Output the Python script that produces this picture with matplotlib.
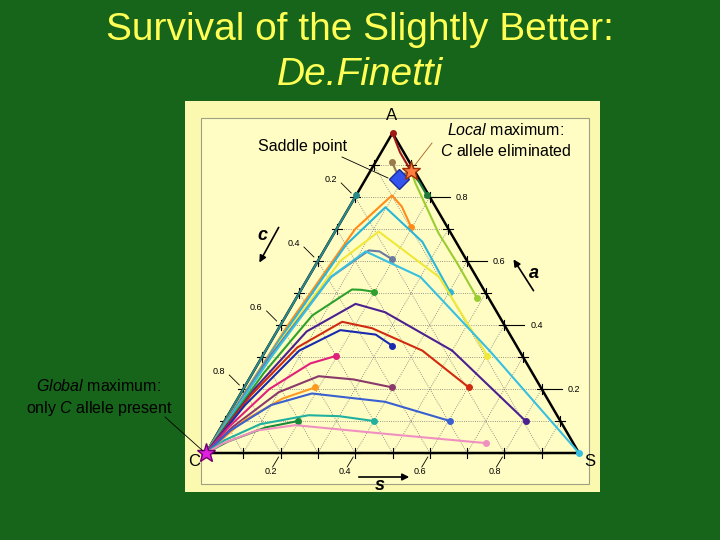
import matplotlib.pyplot as plt
import numpy as np

plt.rcParams['font.family'] = ['Liberation Sans', 'DejaVu Sans']
plt.rcParams['mathtext.fontset'] = 'custom'
plt.rcParams['mathtext.it'] = 'Liberation Sans:italic'
plt.rcParams['mathtext.rm'] = 'Liberation Sans'

# ternary trajectories: list of (s, a) points, from start dot toward the end point
trajectories = [
    ("#a01818", [(0.0, 1.0), (0.05, 0.94), (0.11, 0.88)]),
    ("#9a7a4a", [(0.045, 0.908), (0.07, 0.88), (0.09, 0.87), (0.11, 0.88)]),
    ("#1d7a3a", [(0.19, 0.805), (0.15, 0.845), (0.11, 0.88)]),
    ("#9acd32", [(0.486, 0.483), (0.38, 0.59), (0.28, 0.687), (0.14, 0.843), (0.11, 0.88)]),
    ("#2a8a8a", [(0.0, 0.805), (0.0, 0.4), (0.0, 0.0)]),
    ("#ff8c1a", [(0.198, 0.705), (0.14, 0.77), (0.096, 0.805), (0.05, 0.7), (0.02, 0.4), (0.0, 0.0)]),
    ("#29b6d8", [(0.402, 0.504), (0.25, 0.66), (0.097, 0.768), (0.05, 0.65), (0.02, 0.35), (0.0, 0.0)]),
    ("#f0e838", [(0.603, 0.303), (0.35, 0.55), (0.117, 0.692), (0.06, 0.6), (0.025, 0.35), (0.0, 0.0)]),
    ("#6a7aa0", [(0.197, 0.605), (0.15, 0.63), (0.12, 0.633), (0.06, 0.55), (0.02, 0.3), (0.0, 0.0)]),
    ("#38c0e0", [(1.0, 0.0), (0.6, 0.32), (0.3, 0.55), (0.113, 0.63), (0.06, 0.55), (0.025, 0.3), (0.0, 0.0)]),
    ("#2ea02e", [(0.198, 0.504), (0.16, 0.51), (0.136, 0.511), (0.07, 0.43), (0.03, 0.25), (0.0, 0.0)]),
    ("#4b2090", [(0.807, 0.1), (0.5, 0.32), (0.26, 0.44), (0.168, 0.466), (0.08, 0.38), (0.03, 0.2), (0.0, 0.0)]),
    ("#d02a10", [(0.602, 0.205), (0.42, 0.32), (0.25, 0.39), (0.16, 0.41), (0.08, 0.33), (0.03, 0.18), (0.0, 0.0)]),
    ("#1a2ab0", [(0.332, 0.335), (0.27, 0.37), (0.168, 0.384), (0.09, 0.32), (0.03, 0.15), (0.0, 0.0)]),
    ("#e0207a", [(0.196, 0.303), (0.14, 0.28), (0.07, 0.2), (0.02, 0.08), (0.0, 0.0)]),
    ("#8a3a6a", [(0.397, 0.205), (0.28, 0.23), (0.182, 0.24), (0.1, 0.19), (0.03, 0.08), (0.0, 0.0)]),
    ("#ff9a20", [(0.19, 0.205), (0.12, 0.17), (0.05, 0.1), (0.0, 0.0)]),
    ("#3a60d0", [(0.604, 0.1), (0.4, 0.16), (0.191, 0.186), (0.1, 0.15), (0.03, 0.07), (0.0, 0.0)]),
    ("#20b0a0", [(0.4, 0.1), (0.3, 0.115), (0.216, 0.118), (0.1, 0.09), (0.03, 0.04), (0.0, 0.0)]),
    ("#1a8a3a", [(0.197, 0.1), (0.12, 0.08), (0.04, 0.035), (0.0, 0.0)]),
    ("#f090c0", [(0.734, 0.031), (0.45, 0.06), (0.196, 0.087), (0.1, 0.07), (0.03, 0.03), (0.0, 0.0)]),
]
ticks = [0.1, 0.2, 0.3, 0.4, 0.5, 0.6, 0.7, 0.8, 0.9]
label_vals = [0.2, 0.4, 0.6, 0.8]

Cx, Cy, W, H = 206, 453, 373, 320

def xy(s, a):
    return Cx + (s + a / 2) * W, Cy - a * H

fig = plt.figure(figsize=(7.2, 5.4), dpi=100)
fig.patch.set_facecolor("#17651a")
ax = fig.add_axes([0, 0, 1, 1])
ax.set_xlim(0, 720)
ax.set_ylim(540, 0)
ax.axis("off")

ax.add_patch(plt.Rectangle((185, 101), 415, 391, fc="#fbf8b0", ec="none"))
ax.add_patch(plt.Rectangle((201, 118), 388, 366, fc="#fffdc4", ec="#a0a080", lw=0.8))

# dotted grid
for t in ticks:
    ax.plot(*zip(*[xy(0, t), xy(1 - t, t)]), ls=":", color="#777", lw=0.6)
    ax.plot(*zip(*[xy(t, 0), xy(t, 1 - t)]), ls=":", color="#777", lw=0.6)
    ax.plot(*zip(*[xy(1 - t, 0), xy(0, 1 - t)]), ls=":", color="#777", lw=0.6)

# triangle
tri = [xy(0, 0), xy(1, 0), xy(0, 1), xy(0, 0)]
ax.plot(*zip(*tri), color="black", lw=1.8)
for t in ticks:
    for (x, y) in [xy(0, t), xy(1 - t, t), xy(t, 0)]:
        ax.plot([x - 5, x + 5], [y, y], color="black", lw=0.8)
        ax.plot([x, x], [y - 5, y + 5], color="black", lw=0.8)

for v in label_vals:
    x, y = xy(0, 1 - v)
    ax.plot([x - 4, x - 14], [y - 4, y - 14], color="black", lw=0.6)
    ax.text(x - 18, y - 17, f"{v:.1f}", fontsize=6.5, ha="right", va="center")
    x, y = xy(1 - v, v)
    ax.plot([x, x + 20], [y, y], color="black", lw=0.8)
    ax.text(x + 26, y, f"{v:.1f}", fontsize=6.5, ha="left", va="center")
    x, y = xy(v, 0)
    ax.plot([x - 2, x - 8], [y + 4, y + 14], color="black", lw=0.6)
    ax.text(x - 10, y + 19, f"{v:.1f}", fontsize=6.5, ha="center", va="center")

for col, pts in trajectories:
    P = [xy(s, a) for s, a in pts]
    ax.plot(*zip(*P), color=col, lw=1.5, solid_capstyle="round")
    ax.plot(*P[0], "o", color=col, ms=4)

ax.plot(*xy(0.09, 0.855), "D", color="#3355ee", mec="#1a2a9a", ms=10)
ax.plot(*xy(0.11, 0.88), "*", color="#ff8040", mec="#a03000", ms=14)
ax.plot(*xy(0, 0), "*", color="#e020e0", mec="#700070", ms=14)

# leader lines and annotations
ax.plot([342, 388], [157, 178], color="black", lw=0.6)
ax.text(303, 147, "Saddle point", fontsize=11.5, ha="center", va="center")
ax.plot([415, 432], [165, 143], color="#a06020", lw=0.6)
ax.text(506, 130, r"$\it{Local}$ maximum:", fontsize=11.5, ha="center", va="center")
ax.text(506, 151, r"$\it{C}$ allele eliminated", fontsize=11.5, ha="center", va="center")
ax.plot([165, 203], [417, 451], color="black", lw=0.6)
ax.text(99, 386, r"$\it{Global}$ maximum:", fontsize=11.5, ha="center", va="center")
ax.text(99, 408, r"only $\it{C}$ allele present", fontsize=11.5, ha="center", va="center")

ax.text(392, 115, "A", fontsize=12, ha="center", va="center")
ax.text(194, 461, "C", fontsize=12, ha="center", va="center")
ax.text(590, 461, "S", fontsize=12, ha="center", va="center")
ax.text(262, 236, "c", fontsize=13, style="italic", fontweight="bold", ha="center", va="center")
ax.annotate("", xy=(258, 265), xytext=(280, 225), arrowprops=dict(arrowstyle="-|>", color="black", lw=1.2))
ax.text(534, 273, "a", fontsize=13, style="italic", fontweight="bold", ha="center", va="center")
ax.annotate("", xy=(512, 257), xytext=(535, 293), arrowprops=dict(arrowstyle="-|>", color="black", lw=1.2))
ax.text(380, 486, "s", fontsize=13, style="italic", fontweight="bold", ha="center", va="center")
ax.annotate("", xy=(412, 477), xytext=(356, 477), arrowprops=dict(arrowstyle="-|>", color="black", lw=1.2))

ax.text(360, 30, "Survival of the Slightly Better:", fontsize=28, color="#ffff55", ha="center", va="center")
ax.text(360, 75, "De.Finetti", fontsize=28, color="#ffff55", style="italic", ha="center", va="center")

fig.savefig("out.png", dpi=100, facecolor=fig.get_facecolor())
